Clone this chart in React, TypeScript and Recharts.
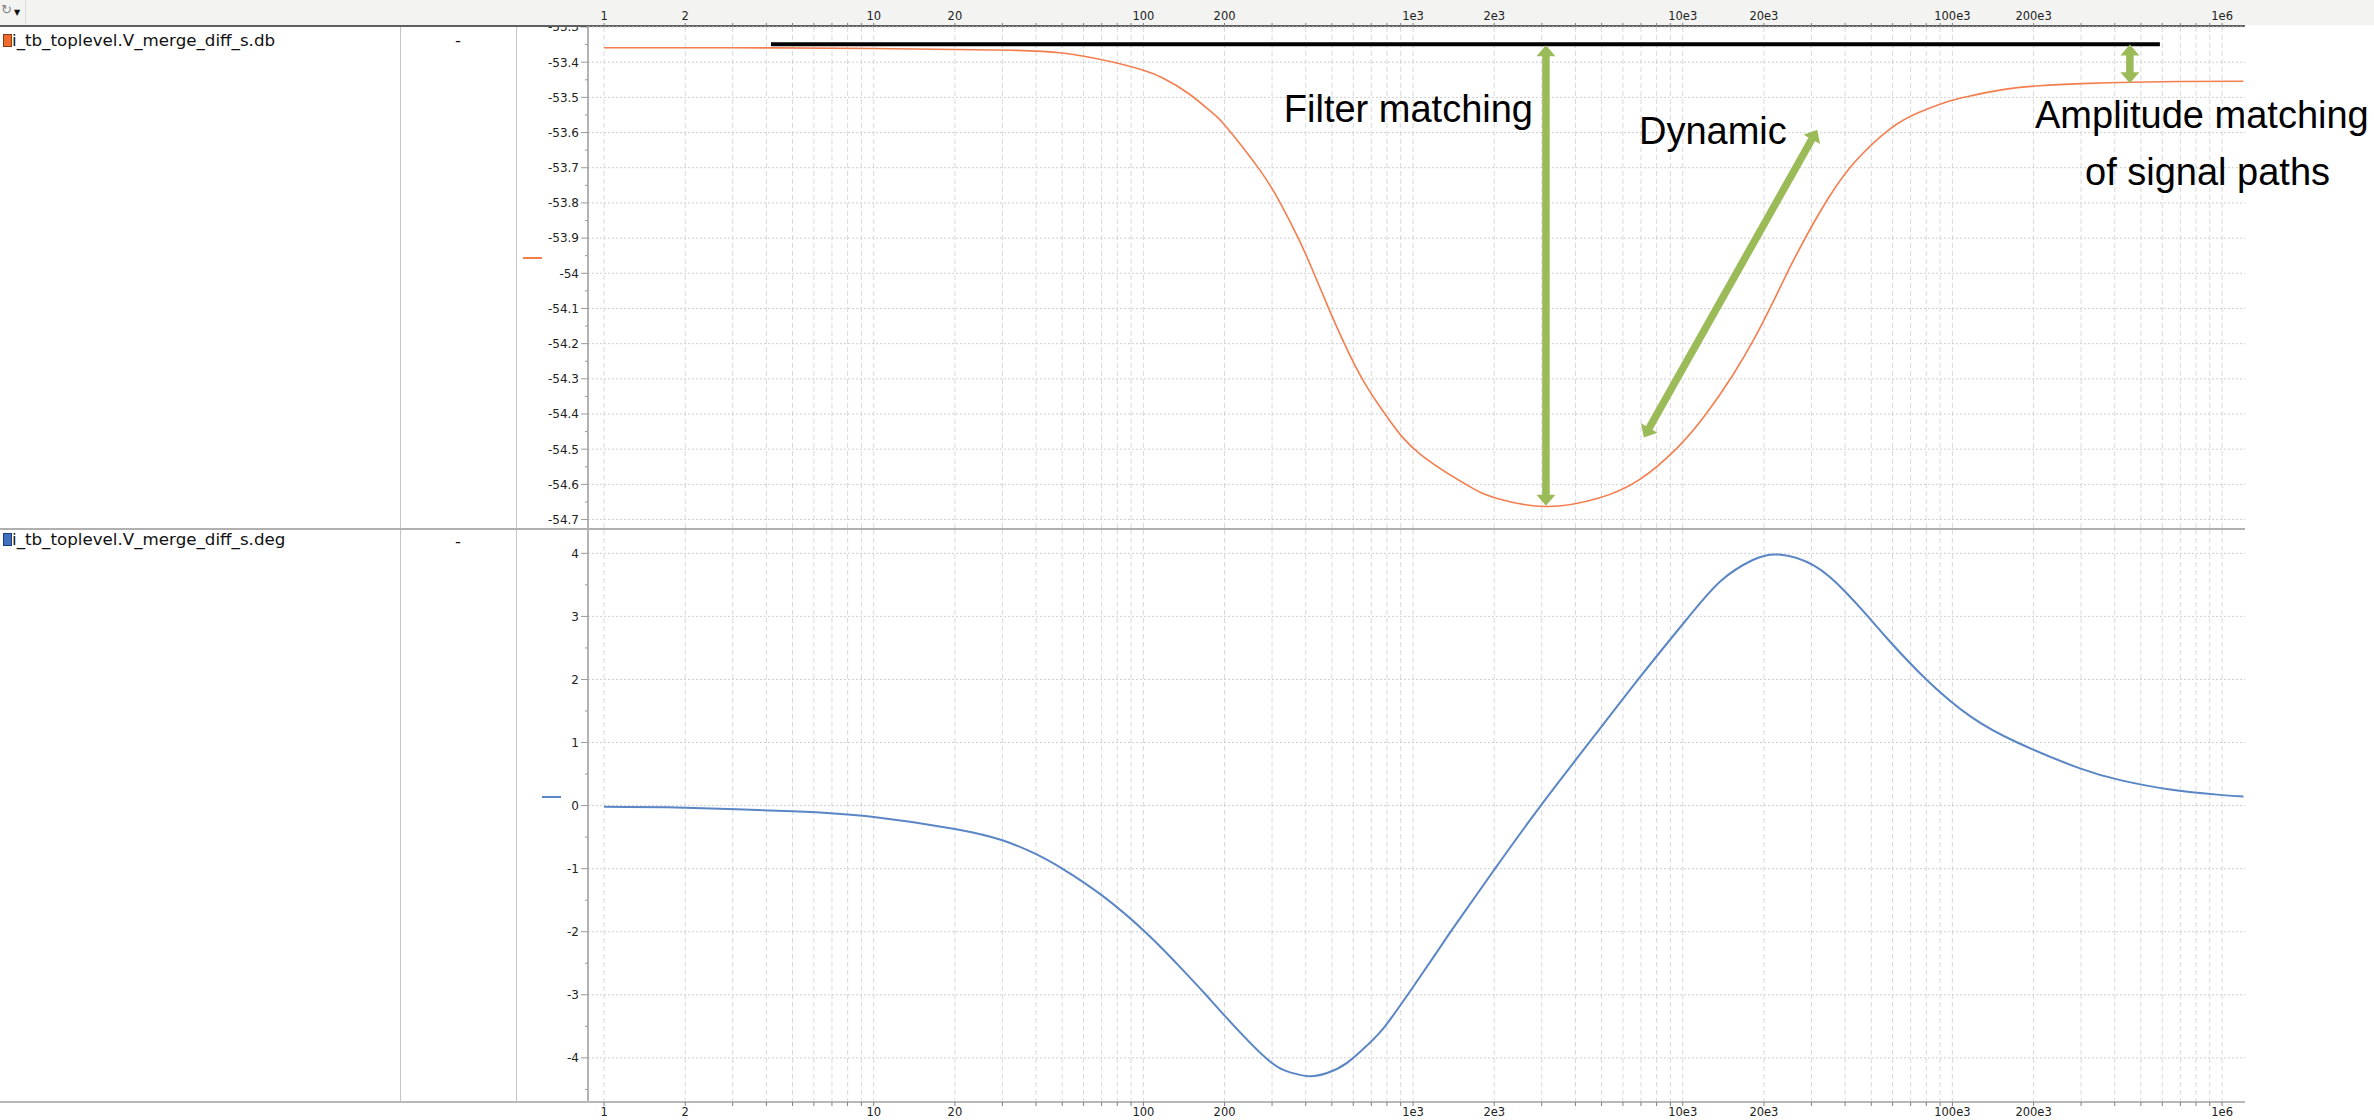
import React from 'react';
import { LineChart, Line, XAxis, YAxis, CartesianGrid, ReferenceLine } from 'recharts';

// ---------- data ----------
const dbFreq = [1, 3, 10, 20, 32, 50, 76, 100, 118, 147, 179, 203, 270, 325, 374, 422, 486, 554, 659, 820, 1065, 1610, 2050, 3100, 4890, 6930, 9600, 12200, 15200, 18500, 22000, 25400, 29800, 34700, 43200, 58600, 75000, 95000, 113000, 154000, 210000, 300000, 460000, 700000, 1200000];
const dbValues = [-53.359, -53.359, -53.361, -53.364, -53.366, -53.374, -53.399, -53.423, -53.445, -53.489, -53.542, -53.584, -53.706, -53.806, -53.898, -53.987, -54.099, -54.197, -54.31, -54.419, -54.515, -54.605, -54.64, -54.663, -54.639, -54.586, -54.494, -54.4, -54.294, -54.183, -54.07, -53.972, -53.872, -53.786, -53.686, -53.59, -53.543, -53.513, -53.498, -53.478, -53.467, -53.461, -53.457, -53.455, -53.454];

const degFreq = [1, 2, 5, 10, 20, 30, 40, 50.5, 70, 102.5, 141, 170.5, 200, 284, 350, 411, 480, 569, 680, 787, 991, 1236, 1410, 2013, 3000, 4730, 7130, 10650, 13900, 18100, 22700, 30800, 40300, 48600, 57300, 80000, 117000, 174000, 297000, 423000, 631000, 982000, 1200000];
const degValues = [-0.02, -0.035, -0.09, -0.18, -0.37, -0.55, -0.77, -1.01, -1.42, -2.02, -2.62, -3.0, -3.33, -4.0, -4.23, -4.29, -4.24, -4.08, -3.79, -3.5, -2.9, -2.3, -1.94, -1.0, 0.02, 1.12, 2.1, 3.02, 3.57, 3.89, 3.98, 3.8, 3.38, 3.0, 2.65, 2.0, 1.41, 1.0, 0.59, 0.4, 0.26, 0.17, 0.145];

const xTicks = [1, 2, 3, 4, 5, 6, 7, 8, 9, 10, 20, 30, 40, 50, 60, 70, 80, 90, 100, 200, 300, 400, 500, 600, 700, 800, 900, 1000, 2000, 3000, 4000, 5000, 6000, 7000, 8000, 9000, 10000, 20000, 30000, 40000, 50000, 60000, 70000, 80000, 90000, 100000, 200000, 300000, 400000, 500000, 600000, 700000, 800000, 900000, 1000000];
const xLabelValues = [1, 2, 10, 20, 100, 200, 1000, 2000, 10000, 20000, 100000, 200000, 1000000];
const xLabelTexts = ['1', '2', '10', '20', '100', '200', '1e3', '2e3', '10e3', '20e3', '100e3', '200e3', '1e6'];

const dbMajorTicks = [-53.3, -53.4, -53.5, -53.6, -53.7, -53.8, -53.9, -54.0, -54.1, -54.2, -54.3, -54.4, -54.5, -54.6, -54.7];
const dbMinorTicks = [-53.35, -53.45, -53.55, -53.65, -53.75, -53.85, -53.95, -54.05, -54.15, -54.25, -54.35, -54.45, -54.55, -54.65];
const degMajorTicks = [4, 3, 2, 1, 0, -1, -2, -3, -4];
const degMinorTicks = [3.5, 2.5, 1.5, 0.5, -0.5, -1.5, -2.5, -3.5, -4.5];

const xDomain = [0.872, 1216000];
const dbDomain = [-54.724, -53.3];
const degDomain = [-4.7, 4.37];

// annotation anchors (data coordinates)
const refBarFreq = [4.16, 588000];
const refBarLevel = -53.349;
const filterArrowFreq = 3110;
const filterArrowLevels = [-53.352, -54.661];
const dynamicArrowFreq = [7175, 31530];
const dynamicArrowLevels = [-54.467, -53.592];
const ampArrowFreq = 455000;
const ampArrowLevels = [-53.35, -53.46];

const signalNames = ['i_tb_toplevel.V_merge_diff_s.db', 'i_tb_toplevel.V_merge_diff_s.deg'];

// ---------- styling ----------
const W = 2374;
const ORANGE = '#F47D4E';
const BLUE = '#5A86C6';
const GREEN = '#9BBB59';
const TICK_FONT = 'DejaVu Sans';

const dbData = dbFreq.map((f, i) => ({ f, v: dbValues[i] }));
const degData = degFreq.map((f, i) => ({ f, v: degValues[i] }));

const fmtX = (v: number) => {
  const i = xLabelValues.indexOf(v);
  return i >= 0 ? xLabelTexts[i] : '';
};

const makeYTick = (majors: number[]) => (props: any) => {
  const { x, y, payload } = props;
  const v = payload.value as number;
  const isMajor = majors.some((m) => Math.abs(m - v) < 1e-9);
  return (
    <g>
      <line x1={x - (isMajor ? 7 : 3)} x2={x} y1={y} y2={y} stroke="#9a9a9a" strokeWidth={1} />
      {isMajor && (
        <text x={x - 9} y={y} dy="0.36em" textAnchor="end" fontFamily={TICK_FONT} fontSize={12} fill="#222">
          {String(parseFloat(v.toFixed(1)))}
        </text>
      )}
    </g>
  );
};

const DbTick = makeYTick(dbMajorTicks);
const DegTick = makeYTick(degMajorTicks);

const DoubleArrow = (props: any) => {
  const { x1, y1, x2, y2 } = props;
  const dx = x2 - x1;
  const dy = y2 - y1;
  const len = Math.hypot(dx, dy) || 1;
  const ux = dx / len;
  const uy = dy / len;
  const px = -uy;
  const py = ux;
  const hl = 11;
  const hw = 9.5;
  const head = (tx: number, ty: number, dir: number) => {
    const bx = tx - dir * ux * hl;
    const by = ty - dir * uy * hl;
    return `${tx},${ty} ${bx + px * hw},${by + py * hw} ${bx - px * hw},${by - py * hw}`;
  };
  return (
    <g>
      <line
        x1={x1 + ux * hl * 0.9}
        y1={y1 + uy * hl * 0.9}
        x2={x2 - ux * hl * 0.9}
        y2={y2 - uy * hl * 0.9}
        stroke={GREEN}
        strokeWidth={7.5}
      />
      <polygon points={head(x1, y1, -1)} fill={GREEN} />
      <polygon points={head(x2, y2, 1)} fill={GREEN} />
    </g>
  );
};

const xAxisCommon = {
  dataKey: 'f',
  type: 'number' as const,
  scale: 'log' as const,
  domain: xDomain,
  allowDataOverflow: true,
  ticks: xTicks,
  interval: 0 as const,
  tickFormatter: fmtX,
  tick: { fill: '#222', fontSize: 11.5, fontFamily: TICK_FONT },
  tickSize: 4,
  tickLine: { stroke: '#7f7f7f' },
};

const abs = (l: number, t: number, w: number, h: number, bg: string, z = 0): React.CSSProperties => ({
  position: 'absolute',
  left: l,
  top: t,
  width: w,
  height: h,
  background: bg,
  zIndex: z,
});

export default function App() {
  return (
    <div
      style={{
        position: 'fixed',
        left: 0,
        top: 0,
        width: W,
        height: 1120,
        overflow: 'hidden',
        background: '#fff',
      }}
    >
      {/* toolbar background and header line */}
      <div style={abs(0, 0, W, 25, '#f3f3f2')} />
      <div style={abs(0, 25, 2245, 2, '#5f5f5f')} />

      {/* top panel: magnitude */}
      <div style={{ position: 'absolute', left: 0, top: 0, zIndex: 1 }}>
        <LineChart width={W} height={528} data={dbData} margin={{ top: 0, right: 129, bottom: 0, left: 516 }}>
          <CartesianGrid horizontal={false} verticalValues={xTicks} stroke="#d9d9d9" strokeDasharray="5 3" />
          <CartesianGrid vertical={false} horizontalValues={dbMajorTicks} stroke="#cfcfcf" strokeDasharray="2 2" />
          <XAxis {...xAxisCommon} orientation="top" height={27} tickMargin={3} axisLine={false} />
          <YAxis
            type="number"
            domain={dbDomain}
            allowDataOverflow
            ticks={[...dbMajorTicks, ...dbMinorTicks]}
            interval={0}
            width={72}
            tick={DbTick}
            tickSize={0}
            tickMargin={0}
            tickLine={false}
            axisLine={{ stroke: '#b3b3b3', strokeWidth: 2 }}
          />
          <Line
            dataKey="v"
            type="natural"
            stroke={ORANGE}
            strokeWidth={1.6}
            dot={false}
            isAnimationActive={false}
          />
          <ReferenceLine
            segment={[
              { x: refBarFreq[0], y: refBarLevel },
              { x: refBarFreq[1], y: refBarLevel },
            ]}
            stroke="#000"
            strokeWidth={4}
          />
          <ReferenceLine
            segment={[
              { x: filterArrowFreq, y: filterArrowLevels[0] },
              { x: filterArrowFreq, y: filterArrowLevels[1] },
            ]}
            shape={DoubleArrow}
          />
          <ReferenceLine
            segment={[
              { x: dynamicArrowFreq[0], y: dynamicArrowLevels[0] },
              { x: dynamicArrowFreq[1], y: dynamicArrowLevels[1] },
            ]}
            shape={DoubleArrow}
          />
          <ReferenceLine
            segment={[
              { x: ampArrowFreq, y: ampArrowLevels[0] },
              { x: ampArrowFreq, y: ampArrowLevels[1] },
            ]}
            shape={DoubleArrow}
          />
        </LineChart>
      </div>

      {/* bottom panel: phase */}
      <div style={{ position: 'absolute', left: 0, top: 530, zIndex: 1 }}>
        <LineChart width={W} height={590} data={degData} margin={{ top: 0, right: 129, bottom: 0, left: 516 }}>
          <CartesianGrid horizontal={false} verticalValues={xTicks} stroke="#d9d9d9" strokeDasharray="5 3" />
          <CartesianGrid vertical={false} horizontalValues={degMajorTicks} stroke="#cfcfcf" strokeDasharray="2 2" />
          <XAxis
            {...xAxisCommon}
            orientation="bottom"
            height={18}
            tickMargin={2}
            axisLine={{ stroke: '#b8b8b8', strokeWidth: 2 }}
          />
          <YAxis
            type="number"
            domain={degDomain}
            allowDataOverflow
            ticks={[...degMajorTicks, ...degMinorTicks]}
            interval={0}
            width={72}
            tick={DegTick}
            tickSize={0}
            tickMargin={0}
            tickLine={false}
            axisLine={{ stroke: '#b3b3b3', strokeWidth: 2 }}
          />
          <Line
            dataKey="v"
            type="natural"
            stroke={BLUE}
            strokeWidth={2}
            dot={false}
            isAnimationActive={false}
          />
        </LineChart>
      </div>

      {/* cover the clipped top of the first y label, as in the viewer */}
      <div style={abs(516, 0, 70, 25, '#f3f3f2', 2)} />
      <div style={abs(516, 25, 70, 2, '#5f5f5f', 2)} />

      {/* left panel structure */}
      <div style={abs(400, 27, 1, 1076, '#c6c6c6', 2)} />
      <div style={abs(516, 27, 1, 1076, '#c6c6c6', 2)} />
      <div style={abs(0, 528, 2245, 2, '#b0b0b0', 2)} />
      <div style={abs(0, 1101, 588, 2, '#b8b8b8', 2)} />

      {/* toolbar icon */}
      <div style={{ position: 'absolute', left: 0, top: 0, width: 25, height: 24, zIndex: 3, borderRight: '1px solid #dcdcdc' }}>
        <span style={{ position: 'absolute', left: 1, top: 2, fontFamily: TICK_FONT, fontSize: 13, color: '#888' }}>↻</span>
        <span style={{ position: 'absolute', left: 14, top: 8, fontFamily: TICK_FONT, fontSize: 8, color: '#111' }}>▼</span>
      </div>

      {/* signal colour swatches and value markers */}
      <div style={{ ...abs(3, 34, 7, 11, '#EE6A2E', 3), border: '1px solid #8a3a12' }} />
      <div style={{ ...abs(3, 533, 7, 11, '#3F6FBF', 3), border: '1px solid #1d3d7a' }} />
      <div style={abs(523, 257, 19, 2, ORANGE, 3)} />
      <div style={abs(542, 796, 19, 2, BLUE, 3)} />

      {/* text overlay */}
      <svg width={W} height={1120} style={{ position: 'absolute', left: 0, top: 0, zIndex: 4, pointerEvents: 'none' }}>
        <text x={12} y={46} fontFamily={TICK_FONT} fontSize={16.7} fill="#111">{signalNames[0]}</text>
        <text x={12} y={545} fontFamily={TICK_FONT} fontSize={16.7} fill="#111">{signalNames[1]}</text>
        <text x={458} y={46} fontFamily={TICK_FONT} fontSize={16.7} fill="#111" textAnchor="middle">-</text>
        <text x={458} y={547} fontFamily={TICK_FONT} fontSize={16.7} fill="#111" textAnchor="middle">-</text>

        <g fontFamily="Liberation Sans, Arial, sans-serif" fontSize={38} fill="#000">
          <text x={1533} y={122} textAnchor="end">Filter matching</text>
          <text x={1639} y={144}>Dynamic</text>
          <text x={2035} y={128}>Amplitude matching</text>
          <text x={2085} y={185}>of signal paths</text>
        </g>
      </svg>
    </div>
  );
}
